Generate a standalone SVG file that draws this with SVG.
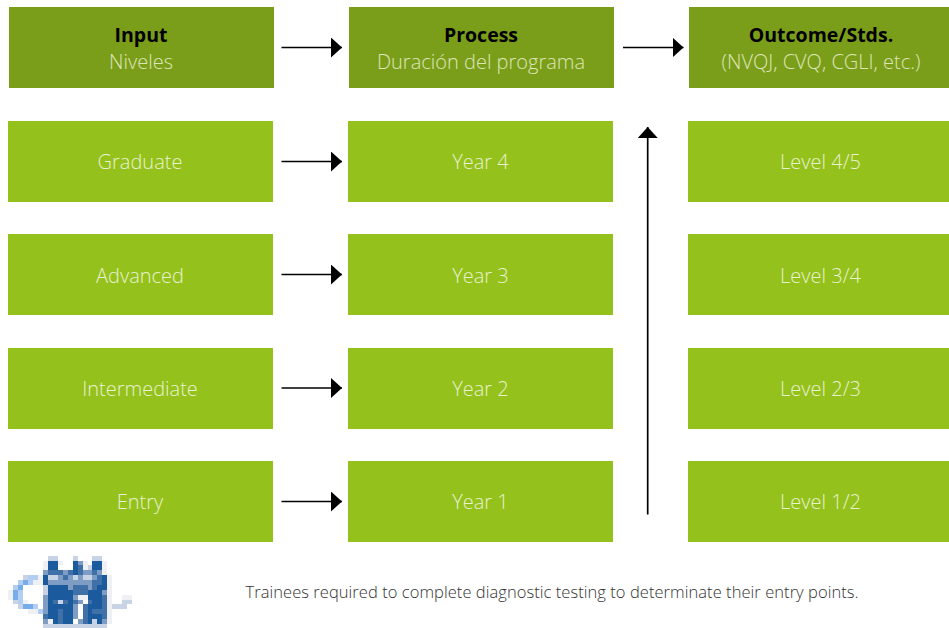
<svg xmlns="http://www.w3.org/2000/svg" width="949" height="628" viewBox="0 0 949 628">
<style>
text{font-family:"Open Sans","Noto Sans","Liberation Sans",sans-serif;text-anchor:middle;font-size:20px;font-weight:300;fill:#e8f2d0}
.h{fill:#7b9e1a}.b{fill:#95c11c}
text.t{font-weight:700;fill:#000;font-size:19.500px}
text.s{fill:#dbe6b8}
text.n{fill:#333;font-size:16.500px;text-anchor:start}
.c{stroke:#000;stroke-width:1.700;fill:none;marker-end:url(#a)}
.d{fill:#1c5a9e}.m{fill:#3f70a8}.l{fill:#7f9cc4}.p{fill:#c8d4e6}.v{fill:#eef0f4}.q{fill:#76acea}.r{fill:#b2cef2}.w{fill:#fff}
</style>
<defs><marker id="a" markerUnits="userSpaceOnUse" markerWidth="11" markerHeight="20" refX="11" refY="10" orient="auto"><path d="M0 0L11 10L0 20Z" fill="#000"/></marker></defs>
<rect width="949" height="628" fill="#fff"/>
<g id="input"><rect class="h" x="9" y="7" width="265" height="81"/><text class="t" x="141" y="42">Input</text><text class="s" x="141" y="69">Niveles</text></g>
<g id="process"><rect class="h" x="349" y="7" width="265" height="81"/><text class="t" x="481" y="42">Process</text><text class="s" x="481" y="69">Duración del programa</text></g>
<g id="outcome"><rect class="h" x="689" y="7" width="260" height="81"/><text class="t" x="821" y="42">Outcome/Stds.</text><text class="s" x="821" y="69">(NVQJ, CVQ, CGLI, etc.)</text></g>
<g id="graduate"><rect class="b" x="8" y="121" width="265" height="81"/><text x="140" y="169">Graduate</text></g>
<g id="advanced"><rect class="b" x="8" y="234" width="265" height="81"/><text x="140" y="283">Advanced</text></g>
<g id="intermediate"><rect class="b" x="8" y="348" width="265" height="81"/><text x="140" y="396">Intermediate</text></g>
<g id="entry"><rect class="b" x="8" y="461" width="265" height="81"/><text x="140" y="509">Entry</text></g>
<g id="year4"><rect class="b" x="348" y="121" width="265" height="81"/><text x="480.500" y="169">Year 4</text></g>
<g id="year3"><rect class="b" x="348" y="234" width="265" height="81"/><text x="480.500" y="283">Year 3</text></g>
<g id="year2"><rect class="b" x="348" y="348" width="265" height="81"/><text x="480.500" y="396">Year 2</text></g>
<g id="year1"><rect class="b" x="348" y="461" width="265" height="81"/><text x="480.500" y="509">Year 1</text></g>
<g id="level45"><rect class="b" x="688" y="121" width="261" height="81"/><text x="820.500" y="169">Level 4/5</text></g>
<g id="level34"><rect class="b" x="688" y="234" width="261" height="81"/><text x="820.500" y="283">Level 3/4</text></g>
<g id="level23"><rect class="b" x="688" y="348" width="261" height="81"/><text x="820.500" y="396">Level 2/3</text></g>
<g id="level12"><rect class="b" x="688" y="461" width="261" height="81"/><text x="820.500" y="509">Level 1/2</text></g>
<g id="connectors">
<path class="c" d="M281.500 47.500H342"/><path class="c" d="M623 47.500H683.500"/>
<path class="c" d="M281.500 161.500H342"/><path class="c" d="M281.500 274.500H342"/><path class="c" d="M281.500 388H342"/><path class="c" d="M281.500 501.500H342"/>
<path class="c" d="M647.700 514.500V127"/>
</g>
<g id="logo" transform="translate(8.300 555.700) scale(4.950 4.870)" shape-rendering="crispEdges">
<path class="d" d="M8 1h2v2h-2zM13 1h1v3h-1zM7 4h1v2h-1zM19 4h1v2h-1zM18 6h2v1h-2zM8 6h4v8h-4zM12 7h1v7h-1zM16 7h3v7h-3zM15 10h1v4h-1zM17 1h2v2h-2z"/>
<path class="m" d="M14 2h1v1h-1zM8 3h3v1h-3zM12 3h1v1h-1zM14 3h1v1h-1zM17 3h1v1h-1zM11 4h1v1h-1zM18 4h1v1h-1zM17 5h2v1h-2zM13 6h3v1h-3zM17 6h1v1h-1zM13 7h3v1h-3zM19 8h1v5h-1zM9 9h1v1h-1zM11 9h1v1h-1zM13 9h1v1h-1zM16 9h1v1h-1zM15 10h1v4h-1zM10 11h1v3h-1zM17 11h2v1h-2zM7 12h1v1h-1z"/>
<path class="l" d="M14 1h1v1h-1zM7 3h1v1h-1zM11 3h1v1h-1zM15 3h2v1h-2zM18 3h1v1h-1zM10 4h1v1h-1zM12 4h1v1h-1zM14 4h1v1h-1zM17 4h1v1h-1zM8 5h9v1h-9zM12 6h1v1h-1zM16 6h1v1h-1zM19 7h1v1h-1zM7 8h1v4h-1zM13 8h1v1h-1zM14 9h1v1h-1zM13 10h1v3h-1zM7 13h1v1h-1zM14 13h1v1h-1zM19 13h1v1h-1z"/>
<path class="p" d="M8 0h2v1h-2zM13 0h1v1h-1zM17 0h2v1h-2zM16 2h1v1h-1zM8 4h2v1h-2zM13 4h1v1h-1zM15 4h2v1h-2zM7 6h1v2h-1zM10 9h1v1h-1zM17 13h1v1h-1zM7 14h13v1h-13zM3 4h1v1h-1zM1 9h1v1h-1zM2 10h1v1h-1zM21 10h3v1h-3zM23 9h2v1h-2z"/>
<path class="v" d="M7 1h1v2h-1zM10 1h1v1h-1zM15 1h1v2h-1zM19 1h1v3h-1zM6 4h1v2h-1zM5 5h1v1h-1zM20 4h1v10h-1zM0 7h1v2h-1zM3 9h1v1h-1zM4 11h2v1h-2zM8 13h1v1h-1zM23 8h2v1h-2zM14 8h2v1h-2z"/>
<path class="q" d="M3 5h1v1h-1zM2 6h1v1h-1zM1 7h1v2h-1zM3 10h2v1h-2z"/>
<path class="r" d="M4 4h2v1h-2zM2 5h1v1h-1zM4 5h1v1h-1zM1 6h1v1h-1zM2 7h1v3h-1zM5 10h1v1h-1zM6 11h1v1h-1z"/>
<path class="w" d="M15 9h1v1h-1zM14 10h1v3h-1z"/>
</g>
<g id="note"><text class="n" x="245.500" y="598" textLength="613">Trainees required to complete diagnostic testing to determinate their entry points.</text></g>
</svg>
